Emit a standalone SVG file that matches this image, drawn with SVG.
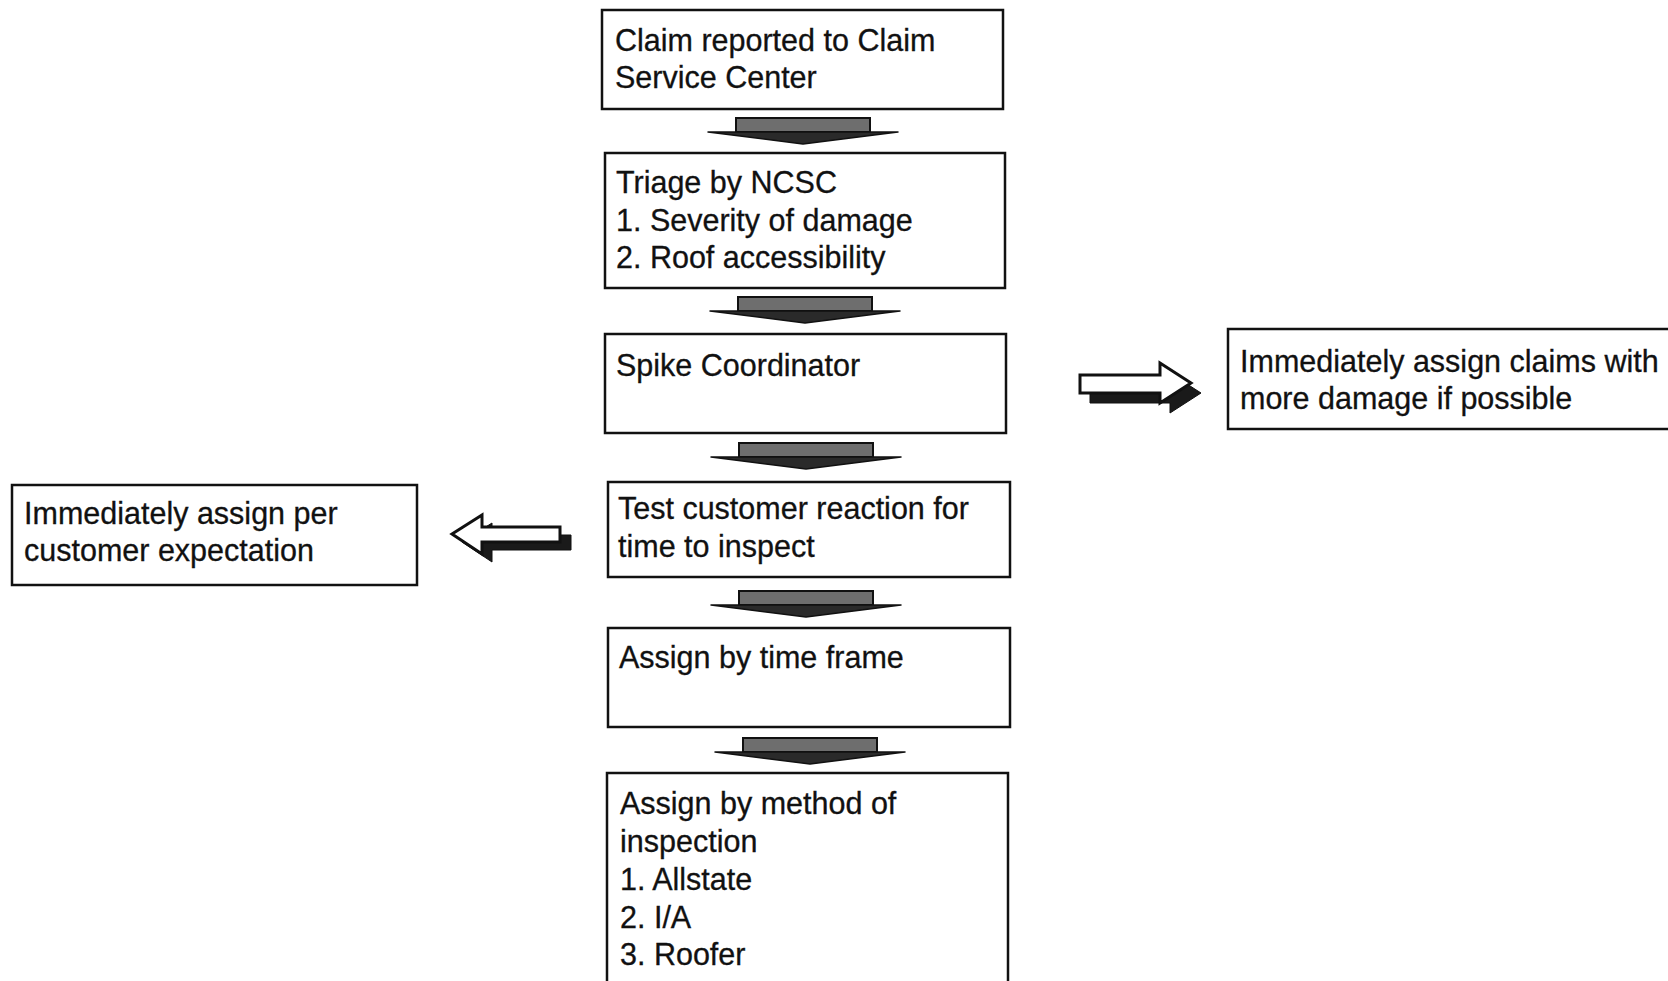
<svg xmlns="http://www.w3.org/2000/svg" width="1668" height="981" viewBox="0 0 1668 981">
<style>
.box{fill:#fff;stroke:#111;stroke-width:2.5}
.t{font-family:"Liberation Sans",Arial,sans-serif;font-size:30.5px;fill:#111;stroke:#111;stroke-width:0.3}
.body{fill:#6e6e6e;stroke:#111;stroke-width:2}
.head{fill:#2a2a2a;stroke:#111;stroke-width:1.5;stroke-linejoin:round}
.shadow{fill:#1a1a1a;stroke:#111;stroke-width:1}
.outline{fill:#fff;stroke:#111;stroke-width:3;stroke-linejoin:miter}
</style>
<defs>
<g id="down">
<rect class="body" x="-67" y="0" width="134" height="14"/>
<polygon class="head" points="-95,14 95,14 0,26"/>
</g>
</defs>
<rect width="1668" height="981" fill="#fff"/>
<g id="connectors">
<use href="#down" x="803" y="118"/>
<use href="#down" x="805" y="297"/>
<use href="#down" x="806" y="443"/>
<use href="#down" x="806" y="591"/>
<use href="#down" x="810" y="738"/>
<g id="arrow-right">
<polygon class="shadow" points="1090,385 1170,385 1170,373 1201,393 1170,413 1170,403 1090,403"/>
<polygon class="outline" points="1080,375 1160,375 1160,363 1191,383 1160,403 1160,393 1080,393"/>
</g>
<g id="arrow-left">
<polygon class="shadow" points="462,542 492,523 492,535 571,535 571,550 492,550 492,562"/>
<polygon class="outline" points="452,534 482,515 482,527 560,527 560,542 482,542 482,554"/>
</g>
</g>
<g id="n1">
<rect class="box" x="602" y="10" width="401" height="99"/>
<text class="t" x="615" y="51">Claim reported to Claim</text>
<text class="t" x="615" y="88">Service Center</text>
</g>
<g id="n2">
<rect class="box" x="605" y="153" width="400" height="135"/>
<text class="t" x="616" y="193">Triage by NCSC</text>
<text class="t" x="616" y="231">1. Severity of damage</text>
<text class="t" x="616" y="268">2. Roof accessibility</text>
</g>
<g id="n3">
<rect class="box" x="605" y="334" width="401" height="99"/>
<text class="t" x="616" y="376">Spike Coordinator</text>
</g>
<g id="n4">
<rect class="box" x="608" y="482" width="402" height="95"/>
<text class="t" x="618" y="519">Test customer reaction for</text>
<text class="t" x="618" y="557">time to inspect</text>
</g>
<g id="n5">
<rect class="box" x="608" y="628" width="402" height="99"/>
<text class="t" x="619" y="668">Assign by time frame</text>
</g>
<g id="n6">
<rect class="box" x="607" y="773" width="401" height="230"/>
<text class="t" x="620" y="814">Assign by method of</text>
<text class="t" x="620" y="852">inspection</text>
<text class="t" x="620" y="890">1. Allstate</text>
<text class="t" x="620" y="928">2. I/A</text>
<text class="t" x="620" y="965">3. Roofer</text>
</g>
<g id="n-left">
<rect class="box" x="12" y="485" width="405" height="100"/>
<text class="t" x="24" y="524">Immediately assign per</text>
<text class="t" x="24" y="561">customer expectation</text>
</g>
<g id="n-right">
<rect class="box" x="1228" y="329" width="460" height="100"/>
<text class="t" x="1240" y="372">Immediately assign claims with</text>
<text class="t" x="1240" y="409">more damage if possible</text>
</g>
</svg>
